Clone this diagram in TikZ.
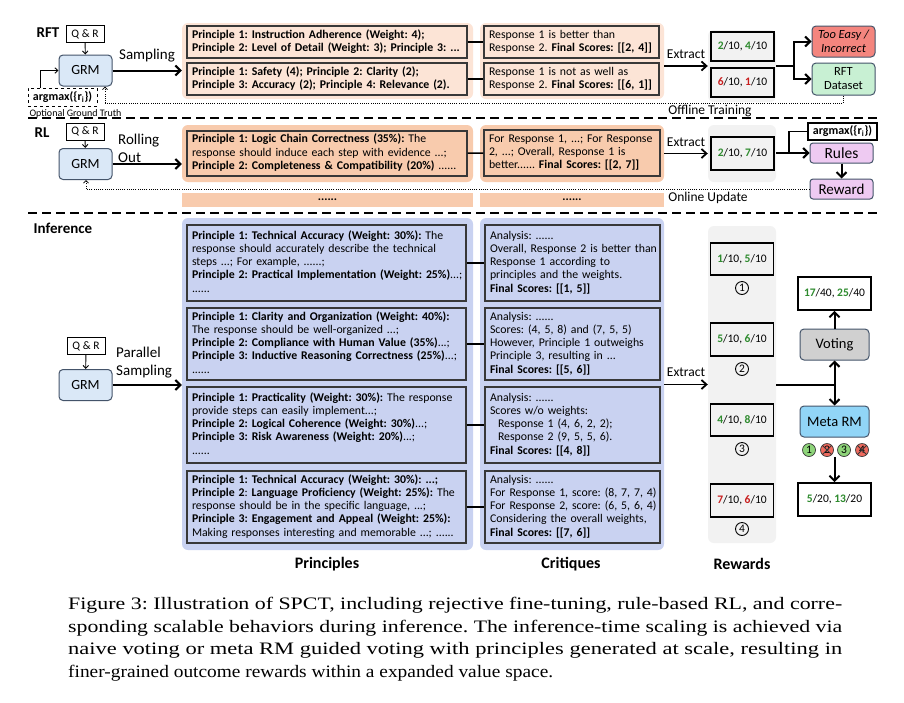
\documentclass[tikz,border=0pt]{standalone}
\usepackage{fontspec}
\usepackage{graphicx}
\newfontfamily\dg{Carlito}
\newfontfamily\capf{Liberation Serif}
\usetikzlibrary{arrows.meta,calc}
\definecolor{peachA}{HTML}{FCE4D6}
\definecolor{peachB}{HTML}{F8CBAD}
\definecolor{lav}{HTML}{C9D2F1}
\definecolor{gbg}{HTML}{F2F2F2}
\definecolor{grmc}{HTML}{DAE8F7}
\definecolor{bdc}{HTML}{44546A}
\definecolor{tooeasy}{HTML}{F4857E}
\definecolor{rftd}{HTML}{C8F0D3}
\definecolor{purp}{HTML}{EECAF2}
\definecolor{votec}{HTML}{D0D0D0}
\definecolor{metac}{HTML}{91D5F7}
\definecolor{gtx}{HTML}{2E8B2E}
\definecolor{rtx}{HTML}{C81E1E}
\definecolor{gcirc}{HTML}{8ED47A}
\definecolor{rcirc}{HTML}{EE6A5E}
\definecolor{boxc}{HTML}{383838}
\newcommand\gnum[1]{\textcolor{gtx}{\textbf{#1}}}
\newcommand\rnum[1]{\textcolor{rtx}{\textbf{#1}}}
\newcommand\linesbox[1]{\begin{tabular}{@{}l@{}}#1\end{tabular}}
\newcommand\capfit[2]{\resizebox{#1}{\height}{#2}}
\begin{document}
\frenchspacing
\begin{tikzpicture}[x=1pt,y=-1pt,
  every node/.style={font=\dg\frenchspacing},
  bgn/.style={rounded corners=6pt, draw=none, inner sep=0pt},
  tb/.style={draw=boxc, line width=1.3pt, inner xsep=5pt, inner ysep=0pt, align=left, font=\dg\frenchspacing\fontsize{11.8}{13.3}\selectfont},
  grm/.style={rounded corners=4pt, fill=grmc, draw=bdc, line width=1pt, minimum width=53pt, minimum height=31pt, font=\dg\fontsize{14}{16}\selectfont},
  qr/.style={draw=black, line width=0.9pt, fill=white, minimum width=38pt, minimum height=17pt, inner sep=0pt, font=\dg\fontsize{11.5}{13}\selectfont},
  rb/.style={draw=black, line width=1.8pt, fill=gbg, minimum width=63pt, inner sep=0pt, font=\dg\fontsize{11.5}{13}\selectfont},
  wb/.style={draw=black, line width=1.8pt, fill=white, minimum width=73pt, minimum height=33pt, inner sep=0pt, font=\dg\fontsize{11.5}{13}\selectfont},
  sbox/.style={rounded corners=4pt, draw=bdc, line width=1pt, inner sep=0pt, align=center},
  lblbig/.style={font=\dg\fontsize{15}{18}\selectfont, inner sep=0pt},
  lblmid/.style={font=\dg\fontsize{13.5}{16}\selectfont, inner sep=0pt},
  sect/.style={font=\dg\bfseries\fontsize{15}{17}\selectfont, inner sep=0pt},
  colhead/.style={font=\dg\bfseries\fontsize{16}{18}\selectfont, inner sep=0pt},
  num/.style={circle, draw=black, line width=0.9pt, minimum size=13pt, inner sep=0pt, font=\dg\fontsize{11.5}{12}\selectfont},
  mc/.style={circle, draw=boxc, line width=0.7pt, minimum size=13pt, inner sep=0pt, font=\dg\fontsize{11.5}{12}\selectfont},
  bigarr/.style={line width=2pt, -{Straight Barb[length=5pt,width=10pt]}},
  midarr/.style={line width=1.8pt, -{Straight Barb[length=5pt,width=9pt]}},
  thinarr/.style={line width=0.9pt, -{Straight Barb[length=3pt,width=5.5pt]}},
  fb/.style={line width=0.8pt, dash pattern=on 0.9pt off 1.3pt, -{Straight Barb[length=2.5pt,width=5pt]}},
  conn/.style={line width=1.5pt},
  sep/.style={line width=1.3pt, dash pattern=on 9pt off 5pt},
  capline/.style={font=\capf\frenchspacing\fontsize{17.5}{22}\selectfont, inner sep=0pt, anchor=base west}
]
\useasboundingbox (0,0) rectangle (904,702);
\fill[white] (0,0) rectangle (904,702);

% ---------------- backgrounds ----------------
\node[bgn, fill=peachA, minimum width=291pt, minimum height=76pt] (pbg1) at (327.5,61) {};
\node[bgn, fill=peachA, minimum width=184pt, minimum height=76pt] (cbg1) at (572,61) {};
\node[bgn, fill=gbg, minimum width=68pt, minimum height=72pt] (rwbg1) at (742,66) {};
\node[bgn, fill=peachB, minimum width=291pt, minimum height=57pt] (pbg2) at (327.5,153.5) {};
\node[bgn, fill=peachB, minimum width=184pt, minimum height=57pt] (cbg2) at (572,153.5) {};
\node[bgn, fill=gbg, minimum width=68pt, minimum height=57pt] (rwbg2) at (742,153.5) {};
\node[bgn, rounded corners=0pt, fill=peachB, minimum width=291pt, minimum height=14pt, font=\dg\bfseries\fontsize{12}{12}\selectfont] (dots1) at (327.5,200) {......};
\node[bgn, rounded corners=0pt, fill=peachB, minimum width=184pt, minimum height=14pt, font=\dg\bfseries\fontsize{12}{12}\selectfont] (dots2) at (572,200) {......};
\node[bgn, fill=lav, minimum width=291pt, minimum height=332pt] (pbg3) at (327.5,384) {};
\node[bgn, fill=lav, minimum width=184pt, minimum height=332pt] (cbg3) at (572,384) {};
\node[bgn, fill=gbg, minimum width=68pt, minimum height=317pt] (rwbg3) at (742,384.5) {};

% ---------------- separators ----------------
\coordinate (s1a) at (28,118); \coordinate (s1b) at (878,118);
\coordinate (s2a) at (28,213); \coordinate (s2b) at (878,213);
\draw[sep] (s1a) -- (s1b);
\draw[sep] (s2a) -- (s2b);

% ---------------- RFT ----------------
\node[sect] (lrft) at (48,33) {RFT};
\node[qr] (q1) at (85,34) {Q \& R};
\node[grm] (grm1) at (85.5,70.5) {GRM};
\node[lblbig] (lsamp1) at (147,56) {Sampling};
\node[draw=black, dashed, line width=0.9pt, minimum width=69pt, minimum height=18pt, inner sep=0pt, font=\dg\bfseries\fontsize{12}{13}\selectfont] (am1) at (62.5,97) {argmax(\{r\textsubscript{i}\})};
\node[font=\dg\fontsize{10}{11}\selectfont, inner sep=0pt] (ogt) at (75.5,114) {Optional Ground Truth};

\node[tb, fill=peachA, text width=270pt, minimum height=32pt] (p11) at (327,42)
 {\linesbox{\textbf{Principle 1: Instruction Adherence (Weight: 4);}\\
  \textbf{Principle 2: Level of Detail (Weight: 3); Principle 3: ...}}};
\node[tb, fill=peachA, text width=270pt, minimum height=32pt] (p12) at (327,79)
 {\linesbox{\textbf{Principle 1: Safety (4); Principle 2: Clarity (2);}\\
  \textbf{Principle 3: Accuracy (2); Principle 4: Relevance (2).}}};
\node[tb, fill=peachA, text width=165pt, minimum height=32pt] (c11) at (571.5,42)
 {\linesbox{Response 1 is better than\\ Response 2. \textbf{Final Scores: [[2, 4]]}}};
\node[tb, fill=peachA, text width=165pt, minimum height=32pt] (c12) at (571.5,79)
 {\linesbox{Response 1 is not as well as\\ Response 2. \textbf{Final Scores: [[6, 1]]}}};
\node[lblmid] (ext1) at (686,54) {Extract};
\node[rb, minimum height=29pt] (r11) at (742.5,46.5) {\gnum{2}/10, \gnum{4}/10};
\node[rb, minimum height=29pt] (r12) at (742.5,82.5) {\rnum{6}/10, \rnum{1}/10};
\node[sbox, fill=tooeasy, minimum width=63pt, minimum height=31pt, font=\dg\itshape\fontsize{12.5}{14}\selectfont] (te) at (843.5,41.5) {Too Easy /\\Incorrect};
\node[sbox, fill=rftd, minimum width=63pt, minimum height=32pt, font=\dg\fontsize{12.5}{14}\selectfont] (rd) at (843.5,79) {RFT\\Dataset};
\node[lblmid] (oft) at (710,111) {Offline Training};

\draw[thinarr] (q1) -- (grm1);
\draw[bigarr] (grm1.east) -- (grm1.east -| pbg1.west);
\draw[thinarr] ([xshift=-22.5pt]am1.north) |- (grm1.west);
\draw[conn] (p11) -- (c11);
\draw[conn] (p12) -- (c12);
\draw[midarr] (cbg1.east |- rwbg1.west) -- (rwbg1.west);
\coordinate (j1) at (794,66);
\draw[line width=2pt] (rwbg1.east) -- (j1);
\draw[bigarr] (j1) |- (te.west);
\draw[bigarr] (j1) |- (rd.west);
\coordinate (fb1) at (105,103);
\draw[fb] (rd.south) |- (fb1) -- (fb1 |- grm1.south);

% ---------------- RL ----------------
\node[sect] (lrl) at (42,133) {RL};
\node[qr] (q2) at (85,131.5) {Q \& R};
\node[grm] (grm2) at (85.5,164) {GRM};
\node[lblbig, align=left, anchor=west, font=\dg\fontsize{15}{18}\selectfont] (lroll) at (118,148) {Rolling\\Out};
\node[tb, fill=peachB, text width=270pt, minimum height=45pt] (p2) at (327,153.5)
 {\linesbox{\textbf{Principle 1: Logic Chain Correctness (35\%):} The\\
  response should induce each step with evidence ...;\\
  \textbf{Principle 2: Completeness \& Compatibility (20\%)} ......}};
\node[tb, fill=peachB, text width=166pt, minimum height=46pt] (c2) at (572,153)
 {\linesbox{For Response 1, ...; For Response\\ 2, ...; Overall, Response 1 is\\ better...... \textbf{Final Scores: [[2, 7]]}}};
\node[lblmid] (ext2) at (686,142) {Extract};
\node[rb, minimum height=33pt] (r2) at (742.5,153.5) {\gnum{2}/10, \gnum{7}/10};
\node[draw=black, line width=1.2pt, fill=white, minimum width=69pt, minimum height=17pt, inner sep=0pt, font=\dg\bfseries\fontsize{12}{13}\selectfont] (am2) at (842.5,131.5) {argmax(\{r\textsubscript{i}\})};
\node[sbox, rounded corners=3pt, fill=purp, minimum width=63pt, minimum height=20pt, font=\dg\fontsize{15.5}{17}\selectfont] (rules) at (841.5,153) {Rules};
\node[sbox, rounded corners=3pt, fill=purp, minimum width=63pt, minimum height=20pt, font=\dg\fontsize{15}{17}\selectfont] (rew) at (841.5,189) {Reward};
\node[lblmid] (onl) at (708,198) {Online Update};

\draw[thinarr] (q2) -- (grm2);
\draw[bigarr] (grm2.east) -- (grm2.east -| pbg2.west);
\draw[conn] (p2) -- (c2);
\draw[midarr] (cbg2.east |- rwbg2.west) -- (rwbg2.west);
\coordinate (j2) at (789,153);
\draw[line width=2pt] (rwbg2.east |- j2) -- (j2);
\draw[bigarr] (j2) -- (rules.west);
\draw[line width=1.6pt] (j2) |- (am2.west);
\draw[bigarr] (rules) -- (rew);
\coordinate (fb2) at (86,189);
\draw[fb] (rew.west) -- (fb2) -- (fb2 |- grm2.south);

% ---------------- Inference ----------------
\node[sect] (linf) at (63,228) {Inference};
\node[qr] (q3) at (86,346) {Q \& R};
\node[grm] (grm3) at (85.5,385) {GRM};
\node[lblbig, align=left, anchor=west, font=\dg\fontsize{15}{18}\selectfont] (lpar) at (116,363) {Parallel\\Sampling};

\node[tb, fill=lav, text width=269pt, minimum height=76pt] (p31) at (326.5,263)
 {\linesbox{\textbf{Principle 1: Technical Accuracy (Weight: 30\%):} The\\
  response should accurately describe the technical\\
  steps ...; For example, ......;\\
  \textbf{Principle 2: Practical Implementation (Weight: 25\%)}...;\\
  ......}};
\node[tb, fill=lav, text width=269pt, minimum height=72pt] (p32) at (326.5,344)
 {\linesbox{\textbf{Principle 1: Clarity and Organization (Weight: 40\%):}\\
  The response should be well-organized ...;\\
  \textbf{Principle 2: Compliance with Human Value (35\%)}...;\\
  \textbf{Principle 3: Inductive Reasoning Correctness (25\%)}...;\\
  ......}};
\node[tb, fill=lav, text width=269pt, minimum height=76pt] (p33) at (326.5,425)
 {\linesbox{\textbf{Principle 1: Practicality (Weight: 30\%):} The response\\
  provide steps can easily implement...;\\
  \textbf{Principle 2: Logical Coherence (Weight: 30\%)}...;\\
  \textbf{Principle 3: Risk Awareness (Weight: 20\%)}...;\\
  ......}};
\node[tb, fill=lav, text width=269pt, minimum height=72pt] (p34) at (326.5,507)
 {\linesbox{\textbf{Principle 1: Technical Accuracy (Weight: 30\%): ...;}\\
  \textbf{Principle 2}: \textbf{Language Proficiency (Weight: 25\%):} The\\
  response should be in the specific language, ...;\\
  \textbf{Principle 3: Engagement and Appeal (Weight: 25\%):}\\
  Making responses interesting and memorable ...; ......}};

\node[tb, fill=lav, text width=165pt, minimum height=76pt] (c31) at (572.5,263)
 {\linesbox{Analysis: ......\\
  Overall, Response 2 is better than\\
  Response 1 according to\\
  principles and the weights.\\
  \textbf{Final Scores: [[1, 5]]}}};
\node[tb, fill=lav, text width=165pt, minimum height=72pt] (c32) at (572.5,344)
 {\linesbox{Analysis: ......\\
  Scores: (4, 5, 8) and (7, 5, 5)\\
  However, Principle 1 outweighs\\
  Principle 3, resulting in ...\\
  \textbf{Final Scores: [[5, 6]]}}};
\node[tb, fill=lav, text width=165pt, minimum height=76pt] (c33) at (572.5,425)
 {\linesbox{Analysis: ......\\
  Scores w/o weights:\\
  \hspace*{8pt}Response 1 (4, 6, 2, 2);\\
  \hspace*{8pt}Response 2 (9, 5, 5, 6).\\
  \textbf{Final Scores: [[4, 8]]}}};
\node[tb, fill=lav, text width=165pt, minimum height=72pt] (c34) at (572.5,507)
 {\linesbox{Analysis: ......\\
  For Response 1, score: (8, 7, 7, 4)\\
  For Response 2, score: (6, 5, 6, 4)\\
  Considering the overall weights,\\
  \textbf{Final Scores: [[7, 6]]}}};

\node[lblmid] (ext3) at (686,372) {Extract};
\node[rb, minimum height=32pt] (r31) at (742,259) {\gnum{1}/10, \gnum{5}/10};
\node[rb, minimum height=33pt] (r32) at (742,339.5) {\gnum{5}/10, \gnum{6}/10};
\node[rb, minimum height=32pt] (r33) at (742,420) {\gnum{4}/10, \gnum{8}/10};
\node[rb, minimum height=33pt] (r34) at (742,500.5) {\rnum{7}/10, \rnum{6}/10};
\node[num] (n1) at (742,288) {1};
\node[num] (n2) at (742,369) {2};
\node[num] (n3) at (742,449) {3};
\node[num] (n4) at (742,529) {4};

\node[wb] (vres) at (834.5,293.5) {\gnum{17}/40, \gnum{25}/40};
\node[sbox, fill=votec, minimum width=69pt, minimum height=31pt, font=\dg\fontsize{14.5}{16}\selectfont] (vote) at (834.5,344.5) {Voting};
\node[sbox, fill=metac, minimum width=69pt, minimum height=31pt, font=\dg\fontsize{14.5}{16}\selectfont] (meta) at (834.5,421.5) {Meta RM};
\node[mc, fill=gcirc] (m1) at (809,450) {1};
\node[mc, fill=rcirc] (m2) at (827,450) {2};
\node[mc, fill=gcirc] (m3) at (844,450) {3};
\node[mc, fill=rcirc] (m4) at (862,450) {4};
\draw[line width=1pt, boxc] (m2.45) -- (m2.225) (m2.135) -- (m2.315);
\draw[line width=1pt, boxc] (m4.45) -- (m4.225) (m4.135) -- (m4.315);
\node[wb] (mres) at (834.5,499.5) {\gnum{5}/20, \gnum{13}/20};

\node[colhead] (hp) at (327,564) {Principles};
\node[colhead] (hc) at (571,564) {Critiques};
\node[colhead] (hr) at (742,564) {Rewards};

\draw[thinarr] (q3) -- (grm3);
\draw[bigarr] (grm3.east) -- (grm3.east -| pbg3.west);
\draw[conn] (p31) -- (c31);
\draw[conn] (p32) -- (c32);
\draw[conn] (p33) -- (c33);
\draw[conn] (p34) -- (c34);
\draw[midarr] (cbg3.east |- rwbg3.west) -- (rwbg3.west);
\coordinate (j3) at (834.5,384.5);
\draw[line width=2pt] (rwbg3.east) -- (j3);
\draw[bigarr] (j3) -- (vote.south);
\draw[bigarr] (j3) -- (meta.north);
\draw[bigarr] (vote.north) -- (vres.south);
\draw[bigarr] (mres.north |- m2.south) -- (mres.north);

% ---------------- caption ----------------
\node[capline] (cap1) at (68,609) {\capfit{774pt}{Figure 3: Illustration of SPCT, including rejective fine-tuning, rule-based RL, and corre-}};
\node[capline] (cap2) at (68,632) {\capfit{774pt}{sponding scalable behaviors during inference. The inference-time scaling is achieved via}};
\node[capline] (cap3) at (68,654.5) {\capfit{774pt}{naive voting or meta RM guided voting with principles generated at scale, resulting in}};
\node[capline] (cap4) at (68,677) {\capfit{485pt}{finer-grained outcome rewards within a expanded value space.}};
\end{tikzpicture}
\end{document}
